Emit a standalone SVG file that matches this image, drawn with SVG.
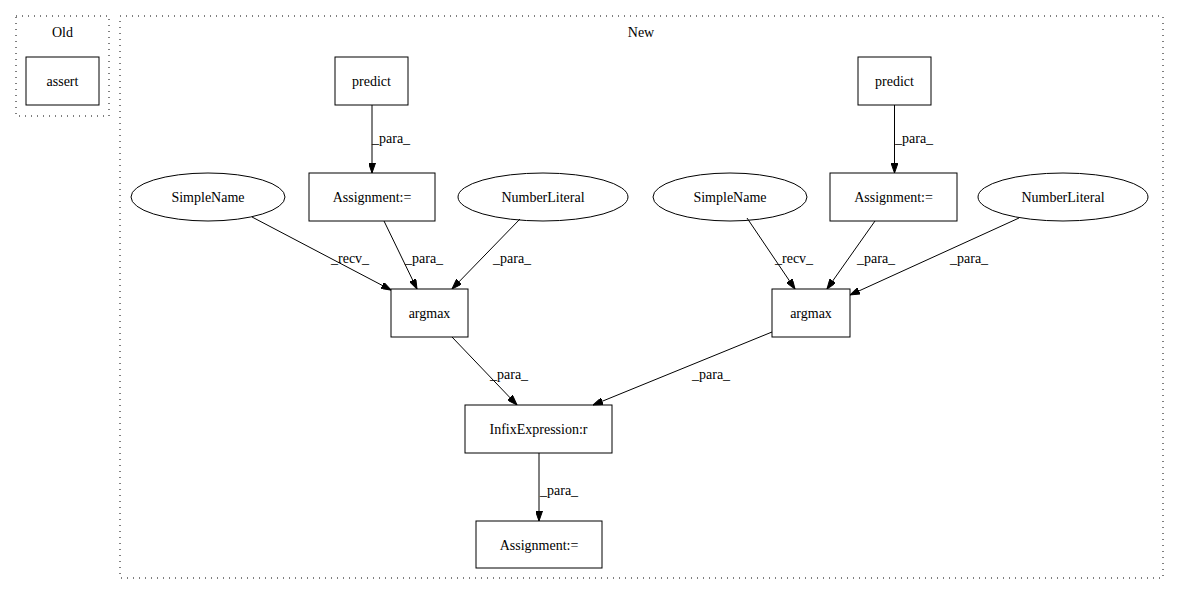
<svg xmlns="http://www.w3.org/2000/svg" width="1179" height="596" viewBox="0 0 1179 596">
<style>
text{font-family:"Liberation Serif","Times New Roman",serif;font-size:14px;fill:#000}
.c{text-anchor:middle}
.n{fill:#fff;stroke:#000;stroke-width:1}
.cl{fill:none;stroke:#000;stroke-width:1;stroke-dasharray:1,5}
.e{fill:none;stroke:#000;stroke-width:1;marker-end:url(#ah)}
</style>
<defs>
<marker id="ah" viewBox="0 0 10 7" refX="10" refY="3.5" markerWidth="10" markerHeight="7" markerUnits="userSpaceOnUse" orient="auto">
<path d="M0,0 L10,3.5 L0,7 z" fill="#000" stroke="#000"/>
</marker>
</defs>
<rect width="1179" height="596" fill="#fff"/>
<g id="cluster_old">
<rect class="cl" x="16" y="16" width="93" height="100"/>
<text class="c" x="62.5" y="37">Old</text>
</g>
<g id="cluster_new">
<rect class="cl" x="120" y="16" width="1043" height="562"/>
<text class="c" x="641" y="37">New</text>
</g>
<g id="assert"><rect class="n" x="26" y="57" width="73" height="48"/><text class="c" x="62.5" y="86">assert</text></g>
<g id="predict1"><rect class="n" x="335" y="57" width="73" height="48"/><text class="c" x="371.5" y="86">predict</text></g>
<g id="predict2"><rect class="n" x="858" y="57" width="73" height="48"/><text class="c" x="894.5" y="86">predict</text></g>
<g id="assign1"><rect class="n" x="309" y="173" width="126" height="48"/><text class="c" x="372" y="202">Assignment:=</text></g>
<g id="assign2"><rect class="n" x="830" y="173" width="127" height="48"/><text class="c" x="893.5" y="202">Assignment:=</text></g>
<g id="simple1"><ellipse class="n" cx="208" cy="197" rx="77" ry="24"/><text class="c" x="208" y="202">SimpleName</text></g>
<g id="simple2"><ellipse class="n" cx="730" cy="197" rx="77" ry="24"/><text class="c" x="730" y="202">SimpleName</text></g>
<g id="num1"><ellipse class="n" cx="543" cy="197" rx="85" ry="24"/><text class="c" x="543" y="202">NumberLiteral</text></g>
<g id="num2"><ellipse class="n" cx="1063" cy="197" rx="85" ry="24"/><text class="c" x="1063" y="202">NumberLiteral</text></g>
<g id="argmax1"><rect class="n" x="391" y="289" width="77" height="48"/><text class="c" x="429.5" y="318">argmax</text></g>
<g id="argmax2"><rect class="n" x="772" y="289" width="78" height="48"/><text class="c" x="811" y="318">argmax</text></g>
<g id="infix"><rect class="n" x="465" y="405" width="147" height="48"/><text class="c" x="538.5" y="434">InfixExpression:r</text></g>
<g id="assign3"><rect class="n" x="476" y="521" width="126" height="47"/><text class="c" x="539" y="550">Assignment:=</text></g>
<g id="connectors">
<path class="e" d="M372,105 L372,173"/>
<text x="372" y="143">_para_</text>
<path class="e" d="M894.5,105 L894.5,173"/>
<text x="895" y="143">_para_</text>
<path class="e" d="M384,221 L417,289"/>
<text x="405" y="263">_para_</text>
<path class="e" d="M520,219 L452,289"/>
<text x="493" y="263">_para_</text>
<path class="e" d="M252,217 L391,290"/>
<text x="331" y="263">_recv_</text>
<path class="e" d="M747,218 L795,289"/>
<text x="775" y="263">_recv_</text>
<path class="e" d="M875,221 L827,289"/>
<text x="857" y="263">_para_</text>
<path class="e" d="M1019,218 L850,295"/>
<text x="950" y="263">_para_</text>
<path class="e" d="M452,337 L517,405"/>
<text x="490" y="379">_para_</text>
<path class="e" d="M772,332 L593,405"/>
<text x="692" y="379">_para_</text>
<path class="e" d="M539,453 L539,521"/>
<text x="540" y="495">_para_</text>
</g>
</svg>
